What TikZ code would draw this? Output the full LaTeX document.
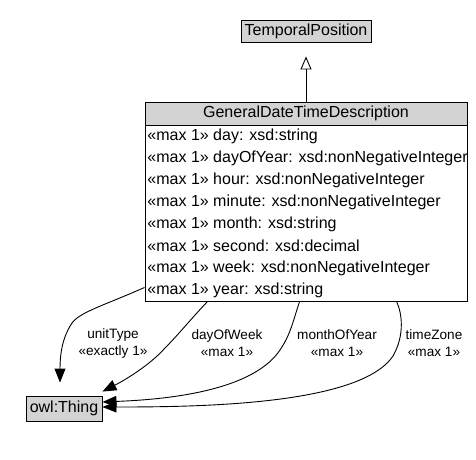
\documentclass[tikz,border=0pt]{standalone}
\usepackage{fontspec}
\setmainfont{Liberation Sans}
\usetikzlibrary{arrows.meta}
\definecolor{umlgray}{HTML}{D3D3D3}

\begin{document}
\begin{tikzpicture}[x=1pt, y=-1pt, line width=0.9pt,
    classbox/.style={draw, fill=umlgray, inner sep=0pt, font=\fontsize{16}{19}\selectfont},
    attr/.style={inner sep=0pt, anchor=west, font=\fontsize{16}{19}\selectfont},
    rel/.style={-{Triangle[length=14pt, width=11pt]}},
    rellabel/.style={align=center, inner sep=0pt, font=\fontsize{13.6}{17}\selectfont}]
    \useasboundingbox (0, 0) rectangle (476, 459);

    % Superclass
    \node[classbox, minimum width=130, minimum height=22] (tp) at (306, 31) {TemporalPosition};

    % Class with its attributes
    \node[classbox, minimum width=322, minimum height=23] (head) at (306, 113.5) {GeneralDateTimeDescription};
    \node[draw, fill=white, inner sep=0pt, minimum width=322, minimum height=176] (body) at (306, 213) {};
    \foreach \a [count=\i from 0] in {day: xsd:string, dayOfYear: xsd:nonNegativeInteger,
        hour: xsd:nonNegativeInteger, minute: xsd:nonNegativeInteger, month: xsd:string,
        second: xsd:decimal, week: xsd:nonNegativeInteger, year: xsd:string}
        \node[attr] (row\i) at (147, 136+22*\i) {«max 1» \a};

    % Range class
    \node[classbox, minimum width=76, minimum height=25] (thing) at (64, 408.5) {owl:Thing};

    % Generalisation
    \draw[-{Triangle[open, length=13pt, width=11pt]}, shorten >=14pt] (head.north) -- (tp.south);

    % Object properties
    \draw[rel] ([yshift=14pt]body.south west) .. controls (105, 305) and (80, 312) .. (72, 323)
        .. controls (62, 338) and (60, 355) .. ([xshift=-4pt, yshift=13pt]thing.north);
    \draw[rel] ([xshift=63pt]body.south west) .. controls (190, 320) and (178, 335) .. (165, 348)
        .. controls (150, 365) and (125, 380) .. ([yshift=4pt]thing.north east);
    \draw[rel] ([xshift=155pt]body.south west) .. controls (292, 325) and (290, 335) .. (280, 350)
        .. controls (250, 395) and (150, 400) .. ([yshift=6.5pt]thing.east);
    \draw[rel] ([xshift=252pt]body.south west) .. controls (402, 313) and (405, 335) .. (393, 356)
        .. controls (360, 405) and (200, 407) .. ([yshift=1.5pt]thing.east);

    % Property labels
    \node[rellabel] (lunit) at (113, 343) {unitType\\«exactly 1»};
    \node[rellabel] (ldow) at (227, 343) {dayOfWeek\\«max 1»};
    \node[rellabel] (lmoy) at (337, 343) {monthOfYear\\«max 1»};
    \node[rellabel] (ltz) at (434, 343) {timeZone\\«max 1»};
\end{tikzpicture}
\end{document}
